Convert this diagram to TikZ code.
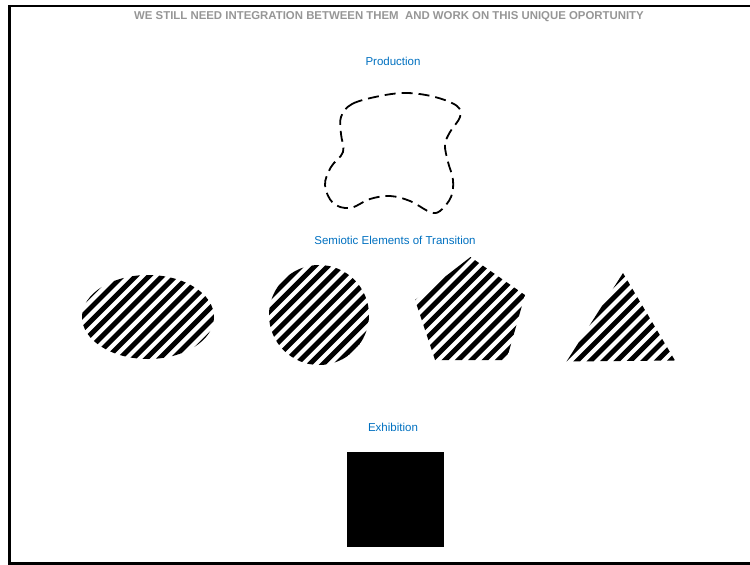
\documentclass[tikz,border=0pt]{standalone}
\usepackage{fontspec}
\setmainfont{Liberation Sans}
\usetikzlibrary{calc}
\definecolor{lblblue}{RGB}{0,112,192}
\definecolor{ttlgray}{RGB}{150,150,150}
\tikzset{
 lbl/.style={text=lblblue, font=\fontsize{11.5}{13}\selectfont, inner sep=0pt},
 ttl/.style={text=ttlgray, font=\bfseries\fontsize{11.4}{13}\selectfont, inner sep=0pt},
 stripe/.style={line width=4.9pt, black},
 hatched/.style={path picture={\foreach \k in {-16,...,16}{\draw[stripe] ($(path picture bounding box.center)+(\k*13.3pt,0pt)+(-130pt,-130pt)$) -- ++(260pt,260pt);}}},
 blob/.style={draw, line width=1.8pt, dash pattern=on 11pt off 6pt},
 frame/.style={draw, line width=2.4pt}
}
\begin{document}
\begin{tikzpicture}[x=1pt,y=-1pt]
\useasboundingbox (0,0) rectangle (750,565);
\draw[frame] (753,6) -- (9.5,6) -- (9.5,563.5) -- (753,563.5);
\node[ttl] (title) at (389,16.5) {WE STILL NEED INTEGRATION BETWEEN THEM\ \ AND WORK ON THIS UNIQUE OPORTUNITY};
\node[lbl] (prod) at (393,61) {Production};
\node[lbl] (semi) at (395,240) {Semiotic Elements of Transition};
\node[lbl] (exhi) at (393,427) {Exhibition};
% dashed blob
\draw[blob] plot[smooth cycle, tension=0.6] coordinates {
 (341,117) (352,104) (380,96) (407,93) (435,97) (457,106) (460,117)
 (450,132) (445,145) (448,162) (453,180) (451,197) (440,211) (430,212)
 (410,201) (390,196) (370,199) (350,208) (333,203) (325,185) (331,167)
 (343,152) (341,134)};
% hatched shapes
\path[hatched] (148,317) ellipse [x radius=66, y radius=42];
\path[hatched] (319,315) circle [radius=50];
\path[hatched] (470.5,257) -- (525,295) -- (506.5,360) -- (435,360) -- (415,300) -- cycle;
\path[hatched] (623,273) -- (675,360.5) -- (566.5,361.5) -- cycle;
% exhibition square
\fill[black] (347,452) rectangle (443.5,547);
\end{tikzpicture}
\end{document}
